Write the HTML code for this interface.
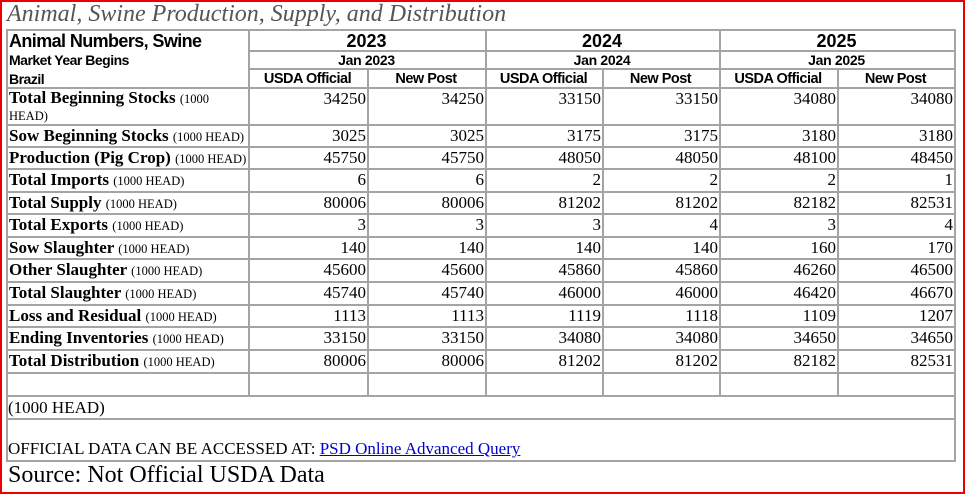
<!DOCTYPE html><html><head><style>
body{margin:0;width:965px;height:494px;position:relative;overflow:hidden;background:#fff;font-family:"Liberation Serif",serif}
.frame{position:absolute;left:0;top:0;width:961px;height:490px;border:2px solid #e00}
.h{position:absolute;height:2px;background:#a4a4a4}
.v{position:absolute;width:2px;background:#a4a4a4}
.t{position:absolute;white-space:nowrap;line-height:1}
.l{font-size:17px;font-weight:bold;left:9px}
.l small{font-size:12.5px;font-weight:normal}
</style></head><body>
<div class="frame"></div>
<div class="t" style="left:7px;top:2px;font-size:24px;font-style:italic;color:#555">Animal, Swine Production, Supply, and Distribution</div>
<div id="g"></div>
<script>
var ys=[29,50,68,87,124,146,168,191,213,236,258,281,304,326,349,372,395,418,460];
var xs=[6,248,367,485,602,719,837,954];
var g=document.getElementById('g'),h='';
function hl(x1,x2,y){h+='<div class="h" style="left:'+x1+'px;top:'+y+'px;width:'+(x2-x1+2)+'px"></div>'}
function vl(x,y1,y2){h+='<div class="v" style="left:'+x+'px;top:'+y1+'px;height:'+(y2-y1+2)+'px"></div>'}
for(var i=0;i<ys.length;i++){
 if(i==1||i==2){hl(248,954,ys[i]);}else hl(6,954,ys[i]);
}
vl(6,29,460);vl(954,29,460);
[248,485,719].forEach(function(x){vl(x,29,395)});
[367,602,837].forEach(function(x){vl(x,68,395)});
function tx(x,y,w,s,st){h+='<div class="t" style="left:'+x+'px;top:'+y+'px;width:'+w+'px;'+st+'">'+s+'</div>'}
tx(9,31,240,'Animal Numbers, Swine','font:bold 18px \'Liberation Sans\',sans-serif;letter-spacing:-0.6px');
tx(9,52,240,'Market Year Begins','font:bold 14px \'Liberation Sans\',sans-serif;letter-spacing:-0.5px');
tx(9,71,240,'Brazil','font:bold 14px \'Liberation Sans\',sans-serif;letter-spacing:-0.5px');
var yrs=['2023','2024','2025'];
for(var k=0;k<3;k++){var x0=xs[k*2+1],x1=xs[k*2+3];
 tx(x0,31,x1-x0,yrs[k],'font:bold 18px \'Liberation Sans\',sans-serif;text-align:center');
 tx(x0,52,x1-x0,'Jan '+yrs[k],'font:bold 14px \'Liberation Sans\',sans-serif;text-align:center;letter-spacing:-0.3px');
 tx(xs[k*2+1],71,xs[k*2+2]-xs[k*2+1],'USDA Official','font:bold 14.5px \'Liberation Sans\',sans-serif;text-align:center;letter-spacing:-0.5px');
 tx(xs[k*2+2],71,xs[k*2+3]-xs[k*2+2],'New Post','font:bold 14.5px \'Liberation Sans\',sans-serif;text-align:center;letter-spacing:-0.5px');
}
var rows=[['Total Beginning Stocks',[34250,34250,33150,33150,34080,34080]],
['Sow Beginning Stocks',[3025,3025,3175,3175,3180,3180]],
['Production (Pig Crop)',[45750,45750,48050,48050,48100,48450]],
['Total Imports',[6,6,2,2,2,1]],
['Total Supply',[80006,80006,81202,81202,82182,82531]],
['Total Exports',[3,3,3,4,3,4]],
['Sow Slaughter',[140,140,140,140,160,170]],
['Other Slaughter',[45600,45600,45860,45860,46260,46500]],
['Total Slaughter',[45740,45740,46000,46000,46420,46670]],
['Loss and Residual',[1113,1113,1119,1118,1109,1207]],
['Ending Inventories',[33150,33150,34080,34080,34650,34650]],
['Total Distribution',[80006,80006,81202,81202,82182,82531]]];
rows.forEach(function(r,i){var y=ys[i+3]+4;
 if(i==0)h+='<div class="t l" style="top:'+(y-1)+'px;line-height:15px;white-space:normal;width:230px">'+r[0]+' <small>(1000 HEAD)</small></div>';
 else h+='<div class="t l" style="top:'+(y-1)+'px">'+r[0]+' <small>(1000 HEAD)</small></div>';
 r[1].forEach(function(v,j){tx(xs[j+1],y-1,xs[j+2]-xs[j+1]-1,v,'font-size:17px;text-align:right')});
});
tx(8,399,200,'(1000 HEAD)','font-size:17px');
h+='<div class="t" style="left:8px;top:440px;font-size:17px">OFFICIAL DATA CAN BE ACCESSED AT: <span style="color:#00c;text-decoration:underline">PSD Online Advanced Query</span></div>';
tx(8,463,400,'Source: Not Official USDA Data','font-size:24px');
g.innerHTML=h;
</script>
</body></html>
